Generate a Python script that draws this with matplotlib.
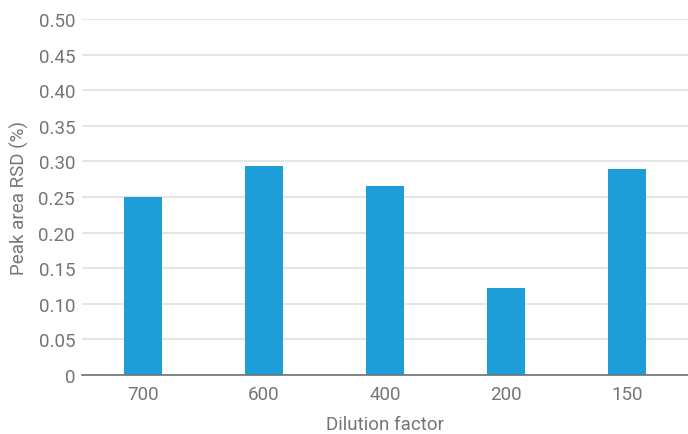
import matplotlib.pyplot as plt
from matplotlib.ticker import FuncFormatter

plt.rcParams['font.family'] = ['Roboto', 'DejaVu Sans']

# Data
dilution = ["700", "600", "400", "200", "150"]
rsd = [0.25, 0.294, 0.265, 0.122, 0.29]

text_color = "#757575"

fig = plt.figure(figsize=(6.88, 4.35), dpi=100)
ax = fig.add_axes([82 / 688, 1 - 376 / 435, 1 - 82 / 688, (376 - 20) / 435])

ax.bar(range(len(dilution)), rsd, width=0.314, color="#1e9ed9", zorder=3)

ax.set_xlim(-0.5, len(dilution) - 0.5)
ax.set_ylim(0, 0.5)
ax.set_yticks([i * 0.05 for i in range(11)])
ax.yaxis.set_major_formatter(FuncFormatter(lambda v, p: "0" if v == 0 else f"{v:.2f}"))
ax.set_xticks(range(len(dilution)))
ax.set_xticklabels(dilution)

ax.grid(axis="y", color="#e0e0e0", linewidth=1.2, zorder=0)
for s in ["top", "right", "left"]:
    ax.spines[s].set_visible(False)
ax.spines["bottom"].set_color("#707070")
ax.spines["bottom"].set_linewidth(1.2)
ax.spines["bottom"].set_zorder(4)

ax.tick_params(axis="both", length=0, labelsize=13.5, labelcolor=text_color)
ax.tick_params(axis="y", pad=5)
ax.tick_params(axis="x", pad=7)

ax.set_xlabel("Dilution factor", fontsize=13.5, color=text_color, labelpad=9)
ax.set_ylabel("Peak area RSD (%)", fontsize=13.5, color=text_color, labelpad=7)

fig.savefig("out.png", dpi=100)
